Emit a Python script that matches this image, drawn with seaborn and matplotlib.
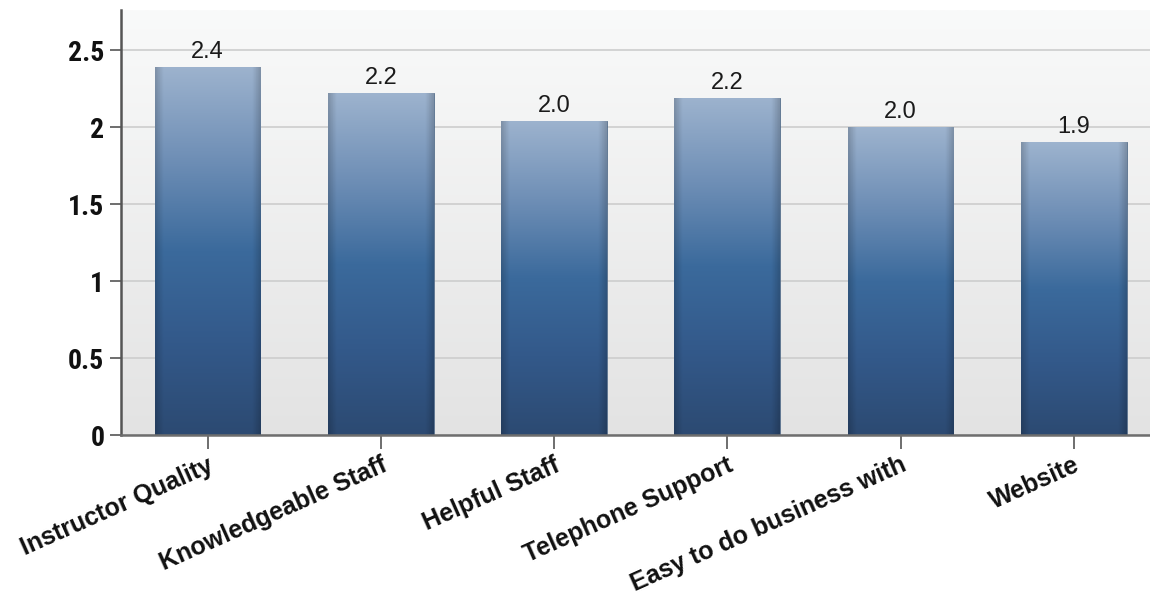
import numpy as np
import matplotlib
matplotlib.use("Agg")
import matplotlib.pyplot as plt
from matplotlib.colors import LinearSegmentedColormap
import seaborn as sns

categories = ["Instructor Quality", "Knowledgeable Staff", "Helpful Staff",
              "Telephone Support", "Easy to do business with", "Website"]
scores = [2.39, 2.22, 2.04, 2.19, 2.00, 1.90]
y_ticks = [0, 0.5, 1, 1.5, 2, 2.5]
y_tick_labels = ["0", "0.5", "1", "1.5", "2", "2.5"]

sns.set_theme(style="white")
plt.rcParams["font.family"] = ["Liberation Sans", "DejaVu Sans"]

fig = plt.figure(figsize=(11.5, 5.95), dpi=100)
ax = fig.add_axes([121 / 1150, 1 - 435 / 595, 1 - 121 / 1150, 425 / 595])

sns.barplot(x=categories, y=scores, ax=ax, width=0.61, color="#3b6898",
            errorbar=None, zorder=3)

ax.set_ylim(0, 2.76)
ax.set_xlim(-0.5, 5.44)

# plot-area background: soft vertical fade
bg = np.linspace(0, 1, 256).reshape(-1, 1)
bg_cmap = LinearSegmentedColormap.from_list("bg", ["#e3e3e3", "#f9fafa"])
ax.imshow(bg, cmap=bg_cmap, aspect="auto", extent=[0, 1, 0, 1],
          transform=ax.transAxes, origin="lower", zorder=0)

# bar fill: vertical gradient with darker edges
bar_cmap = LinearSegmentedColormap.from_list(
    "bar", [(0.0, "#2c4a72"), (0.25, "#33598a"), (0.5, "#3b6a9c"),
            (0.75, "#6f8fb6"), (1.0, "#9db3ce")])
vert = np.linspace(0, 1, 256).reshape(-1, 1)
horiz = np.linspace(-1, 1, 64).reshape(1, -1)
shade = 1 - 0.18 * np.clip((np.abs(horiz) - 0.85) / 0.15, 0, 1)
for patch in ax.patches:
    x0, y0 = patch.get_x(), patch.get_y()
    w, h = patch.get_width(), patch.get_height()
    rgb = bar_cmap(vert)[:, :, :3] * np.ones((1, 64, 1))
    rgb = rgb * shade[..., None]
    im = ax.imshow(rgb, aspect="auto", extent=[x0, x0 + w, y0, y0 + h],
                   origin="lower", zorder=3)
    im.set_clip_path(patch)
    patch.set_facecolor("none")
    patch.set_edgecolor("#4a6584")
    patch.set_linewidth(0.6)

ax.bar_label(ax.containers[0], fmt="{:.1f}", padding=3, fontsize=17,
             color="#1a1a1a", zorder=5)

ax.set_yticks(y_ticks)
ax.set_yticklabels(y_tick_labels)
ax.yaxis.grid(True, color="#cdcdcd", linewidth=1.2, zorder=1)
ax.set_axisbelow(True)

for lab in ax.get_yticklabels():
    lab.set_family(["Roboto Condensed", "Liberation Sans", "DejaVu Sans"])
    lab.set_fontweight("bold")
    lab.set_fontsize(20)
    lab.set_color("#111111")

ax.tick_params(axis="y", left=True, length=8, width=1.2, color="#555555", pad=4)
ax.tick_params(axis="x", bottom=True, length=10, width=1.2, color="#555555", pad=3)
for lab in ax.get_xticklabels():
    lab.set_rotation(24)
    lab.set_ha("right")
    lab.set_va("top")
    lab.set_rotation_mode("anchor")
    lab.set_fontweight("bold")
    lab.set_fontsize(18)
    lab.set_color("#111111")

ax.set_xlabel("")
ax.set_ylabel("")
for side in ["top", "right"]:
    ax.spines[side].set_visible(False)
ax.spines["left"].set_color("#555555")
ax.spines["left"].set_linewidth(1.8)
ax.spines["bottom"].set_color("#6e6e6e")
ax.spines["bottom"].set_linewidth(1.8)
ax.spines["left"].set_zorder(6)
ax.spines["bottom"].set_zorder(6)

fig.savefig("out.png", dpi=100)
